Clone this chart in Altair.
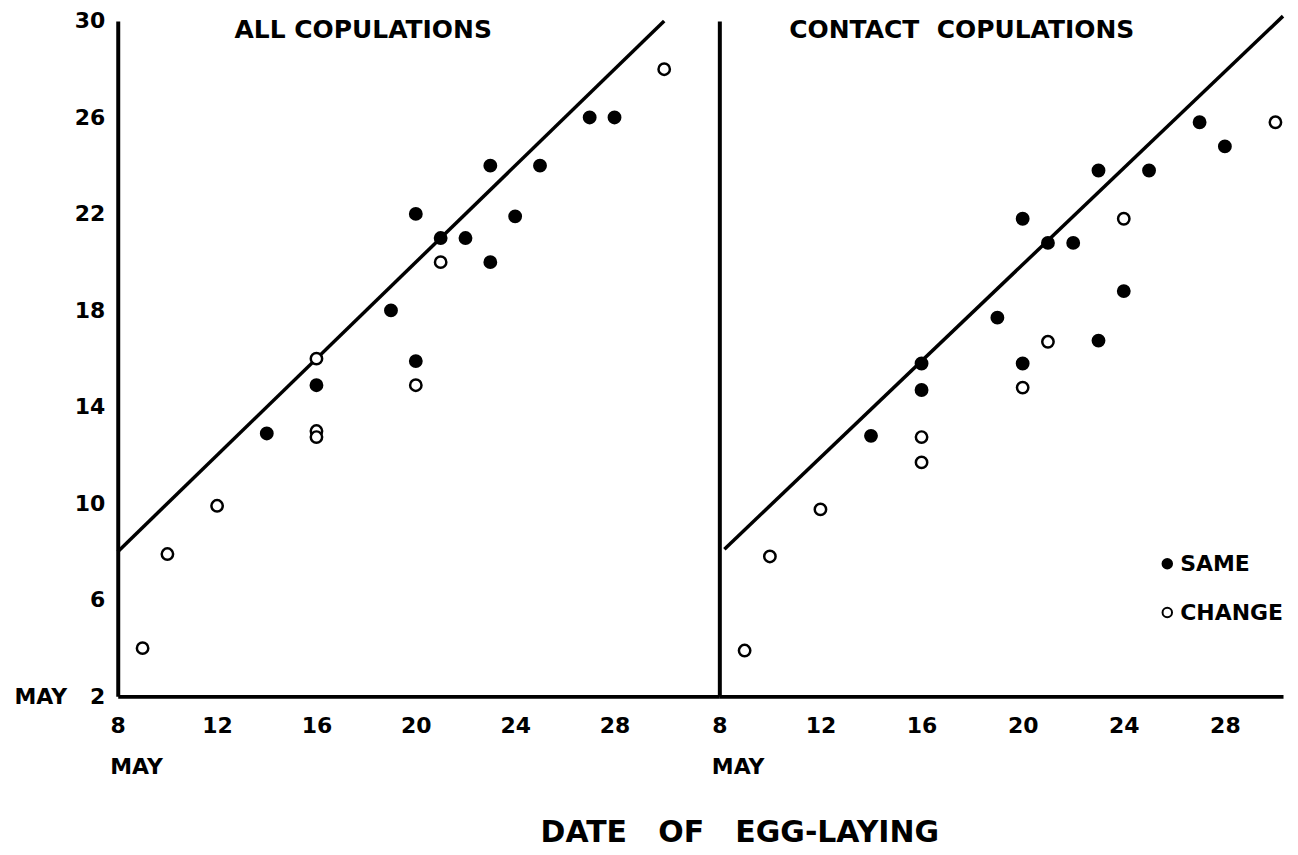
import altair as alt
import pandas as pd

# ---- data ----
# Left panel: ALL COPULATIONS
all_same_x = [14, 16, 19, 20, 20, 21, 22, 23, 23, 24, 25, 27, 28]
all_same_y = [12.9, 14.9, 18.0, 22.0, 15.9, 21.0, 21.0, 24.0, 20.0, 21.9, 24.0, 26.0, 26.0]
all_change_x = [9, 10, 12, 16, 16, 16, 20, 21, 30]
all_change_y = [4.0, 7.9, 9.9, 13.0, 12.75, 16.0, 14.9, 20.0, 28.0]
all_line_x = [8, 30]
all_line_y = [8, 30]

# Right panel: CONTACT COPULATIONS
con_same_x = [14, 16, 16, 19, 20, 20, 21, 22, 23, 23, 24, 25, 27, 28]
con_same_y = [12.8, 15.8, 14.7, 17.7, 21.8, 15.8, 20.8, 20.8, 23.8, 16.75, 18.8, 23.8, 25.8, 24.8]
con_change_x = [9, 10, 12, 16, 16, 20, 21, 24, 30]
con_change_y = [3.9, 7.8, 9.75, 12.75, 11.7, 14.8, 16.7, 21.8, 25.8]
con_line_x = [8.2, 30.3]
con_line_y = [8.1, 30.2]

x_ticks = [8, 12, 16, 20, 24, 28]
y_ticks = [2, 6, 10, 14, 18, 22, 26, 30]
groups = ["SAME", "CHANGE"]
panel_titles = ["ALL COPULATIONS", "CONTACT\u00a0\u00a0COPULATIONS"]
x_title = "MAY"
main_title = "DATE\u00a0\u00a0\u00a0OF\u00a0\u00a0\u00a0EGG-LAYING"

FONT = "DejaVu Sans"


def points_df(sx, sy, cx, cy):
    return pd.DataFrame({
        "day": list(sx) + list(cx),
        "mate": list(sy) + list(cy),
        "group": [groups[0]] * len(sx) + [groups[1]] * len(cx),
    })


def panel(pts, lx, ly, xmax, width, title, title_x, left, legend):
    xs = alt.Scale(domain=[8, xmax], nice=False, zero=False)
    ys = alt.Scale(domain=[2, 30], nice=False, zero=False)
    x_axis = alt.Axis(values=x_ticks, title=x_title, titleAnchor="start", titleAlign="left",
                      titleBaseline="middle", titleX=-8, titleY=70, titleFontSize=22,
                      titleFont=FONT, titleFontWeight="bold", titleColor="black",
                      labelFontSize=22, labelFont=FONT, labelFontWeight="bold", labelColor="black",
                      labelPadding=19, ticks=False, tickSize=0, grid=False,
                      domainColor="black", domainWidth=4, labelFlush=False)
    if left:
        y_axis = alt.Axis(values=y_ticks, title=None,
                          labelExpr="datum.value == 2 ? 'MAY\u00a0\u00a0\u00a02' : datum.label",
                          labelFontSize=22, labelFont=FONT, labelFontWeight="bold", labelColor="black",
                          labelPadding=13, ticks=False, tickSize=0, grid=False,
                          domainColor="black", domainWidth=4, labelFlush=False)
    else:
        y_axis = alt.Axis(values=y_ticks, title=None, labels=False, ticks=False, tickSize=0,
                          grid=False, domainColor="black", domainWidth=4)

    line_df = pd.DataFrame({"day": lx, "mate": ly})
    line = alt.Chart(line_df).mark_line(color="black", strokeWidth=3.5, clip=False).encode(
        x=alt.X("day:Q", scale=xs, axis=x_axis),
        y=alt.Y("mate:Q", scale=ys, axis=y_axis),
    )
    if legend:
        leg = alt.Legend(title=None, orient="none", legendX=438, legendY=533,
                         labelFontSize=22, labelFont=FONT, labelFontWeight="bold", labelColor="black",
                         symbolType="circle", symbolSize=90, symbolStrokeWidth=2,
                         symbolStrokeColor="black", rowPadding=27, labelOffset=2, padding=0)
    else:
        leg = None
    pts_ch = alt.Chart(pts).mark_circle(size=130, stroke="black", strokeWidth=2.5,
                                        opacity=1, clip=False).encode(
        x=alt.X("day:Q", scale=xs),
        y=alt.Y("mate:Q", scale=ys),
        fill=alt.Fill("group:N", scale=alt.Scale(domain=groups, range=["black", "white"]),
                      legend=leg),
    )
    ttl = alt.Chart(pd.DataFrame({"t": [title]})).mark_text(
        font=FONT, fontSize=25, fontWeight="bold", color="black", align="center", baseline="middle"
    ).encode(text="t:N", x=alt.value(title_x), y=alt.value(9.5))
    return alt.layer(line, pts_ch, ttl).properties(width=width, height=677)


left = panel(points_df(all_same_x, all_same_y, all_change_x, all_change_y),
             all_line_x, all_line_y, 32.22, 603, panel_titles[0], 246, True, False)
right = panel(points_df(con_same_x, con_same_y, con_change_x, con_change_y),
              con_line_x, con_line_y, 30.3, 565, panel_titles[1], 243, False, True)

chart = alt.hconcat(left, right, spacing=0, bounds="flush").resolve_scale(
    fill="independent", x="independent", y="independent"
).resolve_legend(fill="independent").properties(
    title=alt.TitleParams(main_title, orient="bottom", anchor="middle", fontSize=30,
                          font=FONT, fontWeight="bold", color="black", dx=88, offset=41),
    padding={"left": 5, "top": 0, "right": 0, "bottom": 0},
    background="white",
).configure(view=alt.ViewConfig(stroke="transparent", strokeWidth=0))

chart.save("out.html", embed_options={"renderer": "svg", "actions": False})
